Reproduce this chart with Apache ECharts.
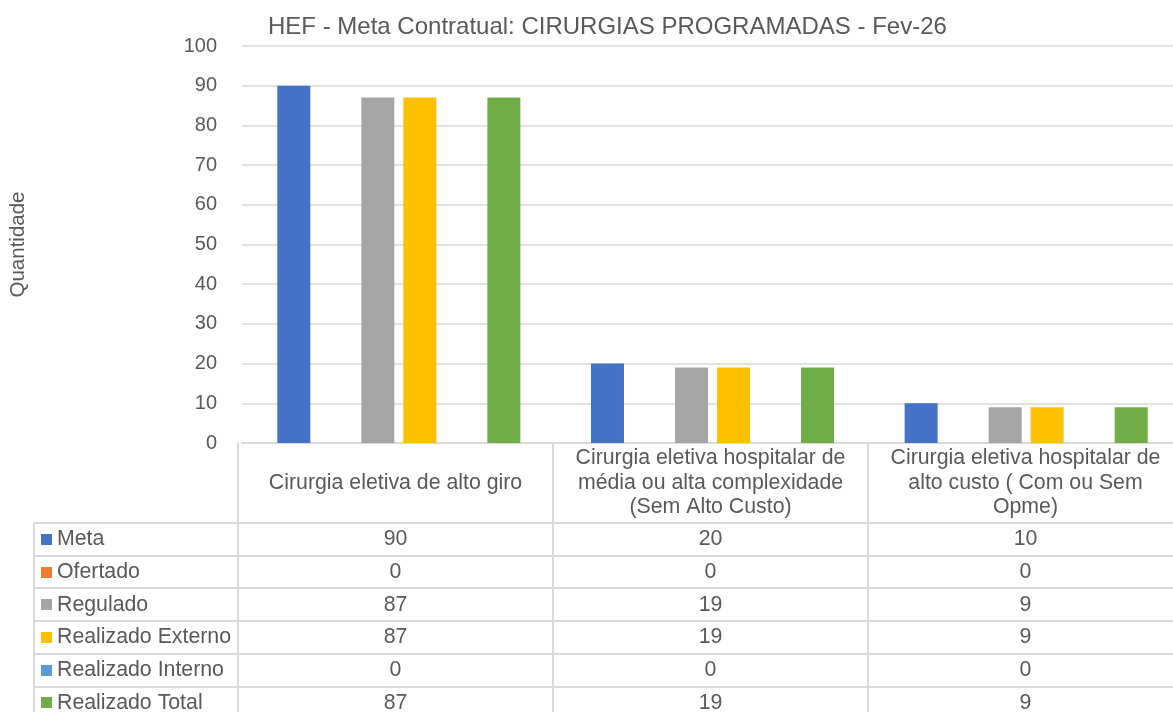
<!DOCTYPE html>
<html>
<head>
<meta charset="utf-8">
<script src="https://cdn.jsdelivr.net/npm/echarts@6/dist/echarts.min.js"></script>
<style>
  html, body { margin: 0; padding: 0; background: #ffffff; overflow: hidden; }
  /* the plot runs a little past the right edge of the window, as in the source */
  #chart { width: 1183px; height: 712px; }
</style>
</head>
<body>
<div id="chart"></div>
<script>
const categories = [
  "Cirurgia eletiva de alto giro",
  "Cirurgia eletiva hospitalar de\nmédia ou alta complexidade\n(Sem Alto Custo)",
  "Cirurgia eletiva hospitalar de\nalto custo ( Com ou Sem\nOpme)"
];

const seriesNames = ["Meta", "Ofertado", "Regulado", "Realizado Externo", "Realizado Interno", "Realizado Total"];
const meta = [90, 20, 10];
const ofertado = [0, 0, 0];
const regulado = [87, 19, 9];
const realizadoExterno = [87, 19, 9];
const realizadoInterno = [0, 0, 0];
const realizadoTotal = [87, 19, 9];
const seriesValues = [meta, ofertado, regulado, realizadoExterno, realizadoInterno, realizadoTotal];

const yTicks = { min: 0, max: 100, step: 10 };

const COLORS = ["#4472C4", "#ED7D31", "#A5A5A5", "#FFC000", "#5B9BD5", "#70AD47"];
const TEXT = "#595959";
const BORDER = "#D9D9D9";
const FONT = "Liberation Sans, Arial, sans-serif";
const TABLE_FONT = "21.3px " + FONT;

const GRID = { left: 238, top: 46, right: 0, bottom: 269 };
const HEADER_H = 80;
const ROW_H = 32.7;
const TABLE_LEFT = 34;

const chart = echarts.init(document.getElementById("chart"));

function buildTable() {
  const width = chart.getWidth();
  const height = chart.getHeight();
  const axisY = height - GRID.bottom;
  const plotLeft = GRID.left;
  const colW = (width - GRID.left - GRID.right) / categories.length;
  const rowsTop = axisY + HEADER_H;
  const bottom = rowsTop + ROW_H * seriesNames.length;
  const items = [];

  const line = (x1, y1, x2, y2) => items.push({
    type: "line",
    silent: true,
    shape: { x1, y1, x2, y2 },
    style: { stroke: BORDER, lineWidth: 2 }
  });

  // horizontal rules
  for (let r = 0; r <= seriesNames.length; r++) {
    const y = Math.round(rowsTop + ROW_H * r);
    line(TABLE_LEFT, y, width, y);
  }
  // vertical rules
  line(TABLE_LEFT, rowsTop, TABLE_LEFT, bottom);
  for (let c = 0; c <= categories.length; c++) {
    const x = Math.round(plotLeft + colW * c);
    line(x, axisY, x, bottom);
  }

  // header labels
  categories.forEach((name, c) => {
    items.push({
      type: "text",
      silent: true,
      x: plotLeft + colW * (c + 0.5),
      y: axisY + HEADER_H / 2,
      style: {
        text: name,
        fill: TEXT,
        font: TABLE_FONT,
        lineHeight: 24.5,
        align: "center",
        verticalAlign: "middle"
      }
    });
  });

  // rows: legend key + values
  seriesNames.forEach((name, r) => {
    const cy = rowsTop + ROW_H * (r + 0.5);
    items.push({
      type: "rect",
      silent: true,
      shape: { x: 41, y: Math.round(cy - 5.5), width: 11, height: 11 },
      style: { fill: COLORS[r] }
    });
    items.push({
      type: "text",
      silent: true,
      x: 57,
      y: cy,
      style: { text: name, fill: TEXT, font: TABLE_FONT, align: "left", verticalAlign: "middle" }
    });
    seriesValues[r].forEach((v, c) => {
      items.push({
        type: "text",
        silent: true,
        x: plotLeft + colW * (c + 0.5),
        y: cy,
        style: { text: String(v), fill: TEXT, font: TABLE_FONT, align: "center", verticalAlign: "middle" }
      });
    });
  });

  return items;
}

function buildOption() {
  return {
    animation: false,
    backgroundColor: "#ffffff",
    textStyle: { fontFamily: FONT },
    title: {
      text: "HEF - Meta Contratual: CIRURGIAS PROGRAMADAS - Fev-26",
      left: 263,
      top: 10,
      textStyle: { color: TEXT, fontSize: 24, fontWeight: "normal", fontFamily: FONT }
    },
    grid: { left: GRID.left, top: GRID.top, right: GRID.right, bottom: GRID.bottom, containLabel: false },
    xAxis: {
      type: "category",
      data: categories,
      axisLine: { show: true, lineStyle: { color: BORDER, width: 2 } },
      axisTick: { show: false },
      axisLabel: { show: false }
    },
    yAxis: {
      type: "value",
      min: yTicks.min,
      max: yTicks.max,
      interval: yTicks.step,
      name: "Quantidade",
      nameLocation: "middle",
      nameRotate: 90,
      nameGap: 213,
      nameTextStyle: { color: TEXT, fontSize: 20.5, fontFamily: FONT },
      axisLine: { show: false },
      axisTick: { show: false },
      axisLabel: { color: TEXT, fontSize: 20, margin: 25, fontFamily: FONT },
      splitLine: { lineStyle: { color: BORDER, width: 1.5 } }
    },
    series: seriesNames.map((name, i) => ({
      name,
      type: "bar",
      data: seriesValues[i],
      barWidth: 33,
      barGap: "27.3%",
      itemStyle: { color: COLORS[i] }
    })),
    graphic: buildTable()
  };
}

function renderChart() {
  chart.setOption(buildOption(), true);
}

renderChart();

window.addEventListener("resize", () => {
  chart.resize();
  renderChart();
});
</script>
</body>
</html>
